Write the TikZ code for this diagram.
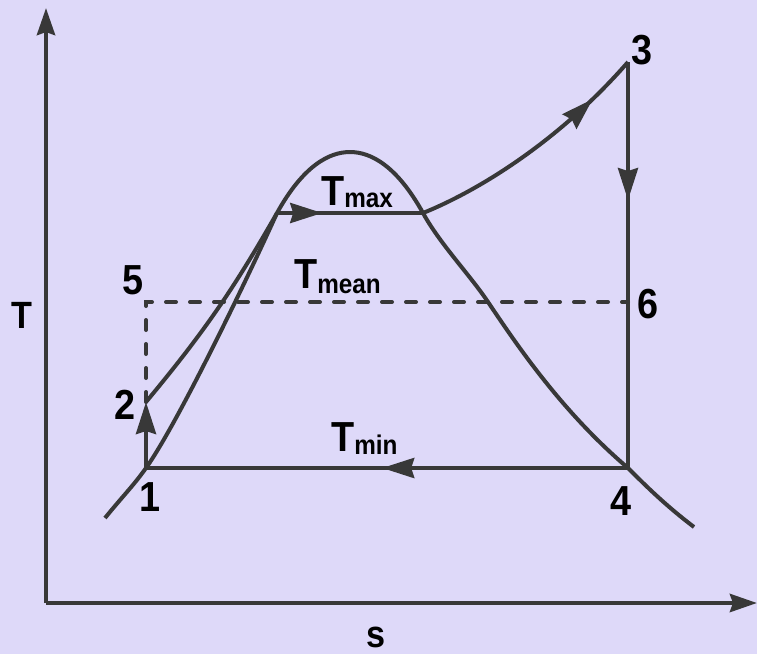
\documentclass[tikz,border=0pt]{standalone}
\usepackage{fontspec}
\setmainfont{Liberation Sans}[FakeStretch=0.9]
\usetikzlibrary{arrows.meta,decorations.markings}
\definecolor{bg}{RGB}{222,217,249}
\definecolor{ink}{RGB}{56,56,56}
\begin{document}
\begin{tikzpicture}[x=1pt,y=-1pt,
  line/.style={draw=ink,line width=4pt},
  axisline/.style={draw=ink,line width=4.5pt,-{Stealth[length=27pt,width=18pt,inset=3pt]}},
  endtip/.style={-{Stealth[length=32pt,width=20pt,inset=3pt]}},
  midarrow/.style={postaction={decorate},decoration={markings,mark=at position #1 with {\arrow{Stealth[length=32pt,width=20pt,inset=3pt]}}}},
  dashline/.style={draw=ink,line width=4pt,line cap=round,dash pattern=on 10pt off 14pt},
  lbl/.style={font=\fontsize{42}{42}\selectfont\bfseries,text=black,inner sep=0pt},
  axlbl/.style={font=\fontsize{38}{38}\selectfont\bfseries,text=black,inner sep=0pt}]
\useasboundingbox (0,0) rectangle (757,654);
\fill[bg] (0,0) rectangle (757,654);
% coordinates
\coordinate (O) at (46,603);
\coordinate (ytop) at (46,8);
\coordinate (xend) at (757,603);
\coordinate (p1) at (146,468);
\coordinate (p2) at (146,402);
\coordinate (p5) at (146,302);
\coordinate (p6) at (628,302);
\coordinate (p4) at (628,468);
\coordinate (p3) at (628,62);
\coordinate (pa) at (277,213);
\coordinate (pb) at (423,213);
\coordinate (top) at (350,152);
\coordinate (pm) at (488,302);
\coordinate (dl) at (105,518);
\coordinate (dr) at (694,527);
% axes
\draw[axisline] (O) -- (ytop);
\draw[axisline] (O) -- (xend);
% saturation dome
\draw[line,line join=round] (dl) .. controls (122,497) and (134,485) .. (p1)
  .. controls (180,420) and (255,262) .. (pa)
  .. controls (303,166) and (329,152) .. (top)
  .. controls (371,152) and (397,166) .. (pb)
  .. controls (440,244) and (470,275) .. (pm)
  .. controls (515,342) and (560,410) .. (p4)
  .. controls (645,485) and (665,505) .. (dr);
% cycle
\draw[line,endtip] (p1) -- (p2);
\draw[line] (p2) to[bend right=5] (pa);
\draw[line,midarrow=0.31] (pa) -- (pb);
\draw[line,midarrow=0.8] (pb) .. controls (480,190) and (560,140) .. (p3);
\draw[line,midarrow=0.34] (p3) -- (p6) -- (p4);
\draw[line,midarrow=0.51] (p4) -- (p1);
\draw[dashline] (p2) -- (p5) -- (p6);
% labels
\node[lbl] (l1) at (150,497) {1};
\node[lbl] (l2) at (125,405) {2};
\node[lbl] (l3) at (642,50) {3};
\node[lbl] (l4) at (621,501) {4};
\node[lbl] (l5) at (133,280) {5};
\node[lbl] (l6) at (648,304) {6};
\node[axlbl] (lT) at (22,315) {T};
\node[axlbl] (ls) at (376,637) {s};
\node[lbl,anchor=base west] (tmax) at (321,205) {T\raisebox{-2pt}{\fontsize{27}{27}\selectfont max}};
\node[lbl,anchor=base west] (tmean) at (294,288) {T\raisebox{-5pt}{\fontsize{27}{27}\selectfont mean}};
\node[lbl,anchor=base west] (tmin) at (331,451) {T\raisebox{-3pt}{\fontsize{27}{27}\selectfont min}};
\end{tikzpicture}
\end{document}
